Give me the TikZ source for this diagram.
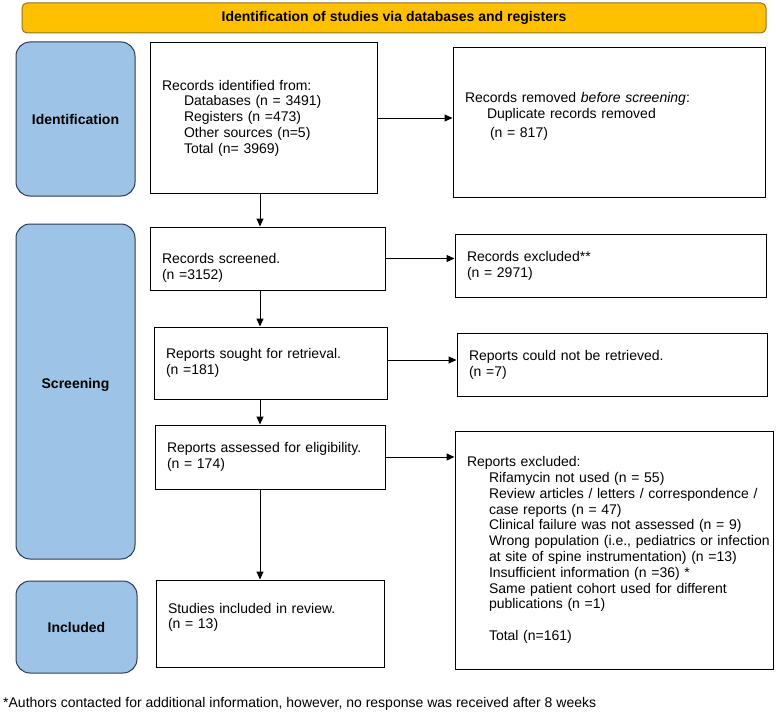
\documentclass[tikz,border=0pt]{standalone}
\usepackage{fontspec}
\setmainfont{Liberation Sans}
\usetikzlibrary{arrows.meta}

\definecolor{bannerfill}{RGB}{255,192,0}
\definecolor{bannerline}{RGB}{150,115,30}
\definecolor{stagefill}{RGB}{157,195,230}
\definecolor{stageline}{RGB}{45,58,82}

\newcommand{\ind}{\hspace*{22pt}}

\begin{document}
\begin{tikzpicture}[x=1pt,y=-1pt,
  txt/.style={font=\fontsize{14}{15.8}\selectfont},
  box/.style={txt,draw=black,line width=1pt,inner xsep=12pt,align=left},
  stage/.style={txt,draw=stageline,fill=stagefill,line width=1pt,rounded corners=14pt,align=center,font=\fontsize{14}{15.8}\selectfont\bfseries},
  arr/.style={line width=1pt,-{Triangle[length=8pt,width=7pt]}}]
\useasboundingbox (0,0) rectangle (777,717);

\node[draw=bannerline,fill=bannerfill,line width=1pt,rounded corners=5pt,minimum width=744,minimum height=30,font=\fontsize{14}{15.8}\selectfont\bfseries] (banner) at (394,18) {Identification of studies via databases and registers};

\node[stage,minimum width=119,minimum height=154] (ident) at (75.5,119) {Identification};
\node[stage,minimum width=119,minimum height=335] (screen) at (75.5,391.5) {Screening\\\mbox{}};
\node[stage,minimum width=121,minimum height=92] (incl) at (76.5,627) {Included};

\node[box,text width=203,minimum height=150] (recid) at (263.5,118) {Records identified from:\\
  \ind Databases (n = 3491)\\
  \ind Registers (n =473)\\
  \ind Other sources (n=5)\\
  \ind Total (n= 3969)};
\node[box,text width=288,minimum height=149] (recrem) at (609,122.5) {Records removed \textit{before screening}:\\
  \ind Duplicate records removed\\[4pt]
  \ind\hspace*{3pt}(n = 817)\rule[-15pt]{0pt}{0pt}};

\node[box,text width=211,minimum height=63] (recscr) at (267.5,258.5) {\rule{0pt}{29pt}Records screened.\\(n =3152)};
\node[box,text width=287,minimum height=63] (recexc) at (610.5,265.5) {Records excluded**\\(n = 2971)};

\node[box,text width=209,minimum height=72] (repsgt) at (270.5,363) {Reports sought for retrieval.\\(n =181)};
\node[box,text width=286,minimum height=63] (repnr) at (612,364.5) {Reports could not be retrieved.\\(n =7)};

\node[box,text width=206,minimum height=64] (repass) at (270,457) {Reports assessed for eligibility.\\(n = 174)};
\node[box,text width=294,minimum height=238] (repexc) at (614,550) {Reports excluded:\\
  \ind Rifamycin not used (n = 55)\\
  \ind\mbox{Review articles / letters / correspondence /}\\
  \ind case reports (n = 47)\\
  \ind Clinical failure was not assessed (n = 9)\\
  \ind\mbox{Wrong population (i.e., pediatrics or infection}\\
  \ind\mbox{at site of spine instrumentation) (n =13)}\\
  \ind Insufficient information (n =36) *\\
  \ind Same patient cohort used for different\\
  \ind publications (n =1)\\[15.8pt]
  \ind Total (n=161)};

\node[box,text width=204,minimum height=87] (studinc) at (270,623.5) {Studies included in review.\\(n = 13)\rule[-15pt]{0pt}{0pt}};

\node[txt,anchor=west,inner sep=0pt] (foot) at (3,704) {*Authors contacted for additional information, however, no response was received after 8 weeks};

\coordinate (spine) at (260,0);

\path [arr] (recid.east) edge (recid.east -| recrem.west);
\path [arr] (recscr.east) edge (recscr.east -| recexc.west);
\path [arr] ([yshift=3pt]repsgt.east) edge ([yshift=3pt]repsgt.east -| repnr.west);
\path [arr] (repass.east) edge (repass.east -| repexc.west);

\path [arr] (spine |- recid.south) edge (spine |- recscr.north);
\path [arr] (spine |- recscr.south) edge (spine |- repsgt.north);
\path [arr] (spine |- repsgt.south) edge (spine |- repass.north);
\path [arr] (spine |- repass.south) edge (spine |- studinc.north);

\end{tikzpicture}
\end{document}
